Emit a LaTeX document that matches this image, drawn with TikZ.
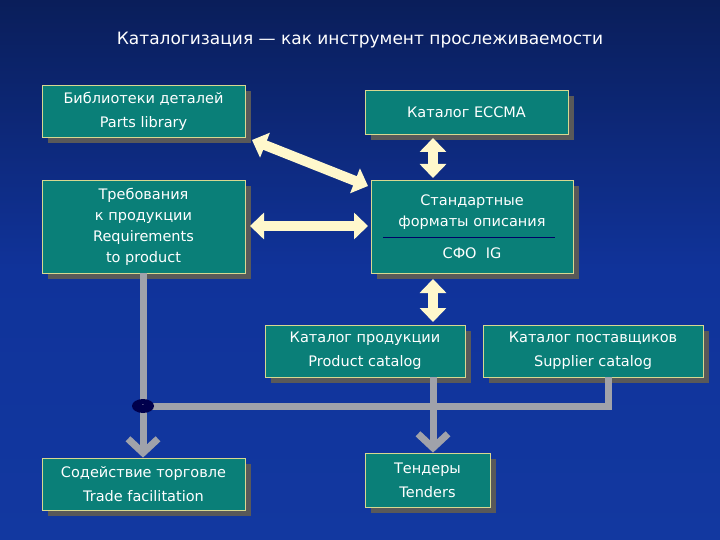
\documentclass[tikz,border=0pt]{standalone}
\usepackage{fontspec}
\setmainfont{DejaVu Sans}
\usetikzlibrary{arrows.meta,shapes.geometric}
\definecolor{teal1}{HTML}{0A7F78}
\definecolor{bord}{HTML}{D8D890}
\definecolor{ylw}{HTML}{FFF8CC}
\definecolor{gr}{HTML}{A0A2AA}
\definecolor{bgtop}{HTML}{0A1E5A}
\definecolor{bgmid}{HTML}{10339A}
\definecolor{bgbot}{HTML}{1238A0}
\begin{document}
\begin{tikzpicture}[x=1pt,y=-1pt,
 box/.style={draw=bord,line width=0.8pt,fill=teal1,text=white,align=center,font=\fontsize{14.5}{24}\selectfont,inner sep=0pt},
 sh/.style={fill=gray!70!black},
 dbl/.style={ylw,line width=10pt,{Triangle[width=26pt,length=14pt]}-{Triangle[width=26pt,length=14pt]}},
 gar/.style={gr,line width=7pt,-{Straight Barb[length=14pt,width=30pt,line width=7pt]}},
 gl/.style={gr,line width=7pt}]
\useasboundingbox (0,0) rectangle (720,540);
\shade[top color=bgtop,bottom color=bgbot,middle color=bgmid] (0,0) rectangle (720,540);
\node[white,font=\fontsize{17}{20}\selectfont] (title) at (360,40) {Каталогизация — как инструмент прослеживаемости};
% shadows
\foreach \a/\b/\c/\d in {42/85/245/137, 365/90/568/134, 42/180/245/273, 371/180/573/273, 265/325/465/377, 483/325/703/377, 42/458/245/510, 365/453/490/507}
 \fill[sh] (\a+6,\b+6) rectangle (\c+6,\d+6);
\node[box,minimum width=203pt,minimum height=52pt] (parts) at (143.5,111) {Библиотеки деталей\\Parts library};
\node[box,minimum width=203pt,minimum height=44pt] (eccma) at (466.5,112) {Каталог ECCMA};
\node[box,minimum width=203pt,minimum height=93pt,font=\fontsize{14.5}{21}\selectfont] (req) at (143.5,226.5) {Требования\\к продукции\\Requirements\\to product};
\node[box,minimum width=202pt,minimum height=93pt] (sfo) at (472,226.5) {};
\node[white,align=center,font=\fontsize{14.5}{21}\selectfont] (sfot) at (472,212) {Стандартные\\форматы описания};
\draw[blue!40!black,line width=0.6pt] (383,237) -- (555,237);
\node[white,font=\fontsize{14.5}{17}\selectfont] (sfoig) at (472,253) {СФО\ \ IG};
\node[box,minimum width=200pt,minimum height=52pt] (prod) at (365,351) {Каталог продукции\\Product catalog};
\node[box,minimum width=220pt,minimum height=52pt] (sup) at (593,351) {Каталог поставщиков\\Supplier catalog};
\node[box,minimum width=203pt,minimum height=52pt] (trade) at (143.5,484) {Содействие торговле\\Trade facilitation};
\node[box,minimum width=125pt,minimum height=54pt] (tend) at (427.5,480) {Тендеры\\Tenders};
% yellow arrows
\draw[dbl] (252,140) -- (368,186);
\draw[dbl] (250,226) -- (368,226);
\draw[dbl] (433,138) -- (433,178);
\draw[dbl] (433,279) -- (433,322);
% gray connectors
\coordinate (j1) at (143,406);
\coordinate (j2) at (433,406);
\coordinate (j3) at (608,406);
\draw[gl] (sup.south -| j3) -- (j3) -- (j1);
\draw[gar] (req.south -| j1) -- (trade.north -| j1);
\draw[gar] (prod.south -| j2) -- (tend.north -| j2);
\node[fill=blue!30!black,ellipse,minimum width=22pt,minimum height=14pt,inner sep=0pt,text=white,font=\tiny] (dot) at (j1) {-};
\end{tikzpicture}
\end{document}
